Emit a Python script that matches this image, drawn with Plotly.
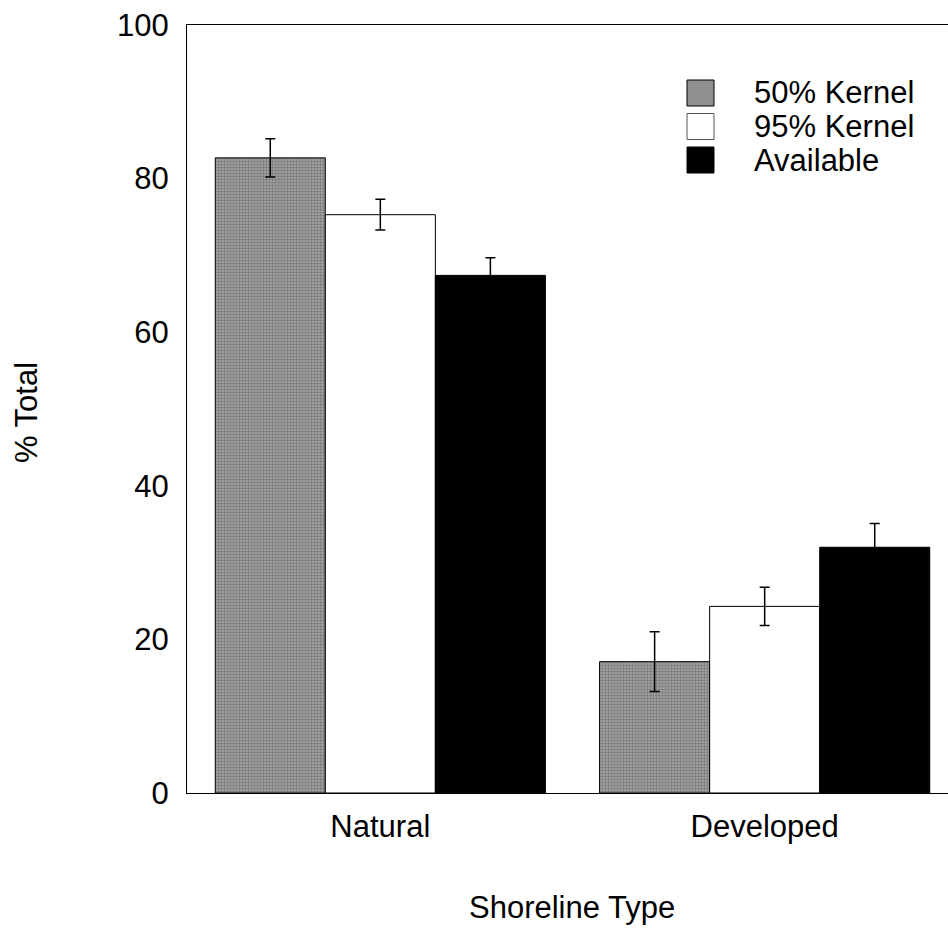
import plotly.graph_objects as go

categories = ["Natural", "Developed"]
series_names = ["50% Kernel", "95% Kernel", "Available"]
kernel50 = [82.7, 17.1]
kernel50_err = [2.5, 3.9]
kernel95 = [75.3, 24.3]
kernel95_err = [2.0, 2.5]
available = [67.4, 32.0]
available_err = [2.3, 3.1]
y_ticks = [0, 20, 40, 60, 80, 100]

values = [kernel50, kernel95, available]
errors = [kernel50_err, kernel95_err, available_err]
fills = [
    dict(color="#8c8c8c", pattern=dict(shape=".", fgcolor="#4a4a4a", bgcolor="#a8a8a8", size=3, solidity=0.5)),
    dict(color="white"),
    dict(color="black"),
]

FONT = "Liberation Sans, Arial, sans-serif"
FS = 31
xpos = list(range(len(categories)))

fig = go.Figure()
for name, v, e, f in zip(series_names, values, errors, fills):
    marker = dict(f)
    marker["line"] = dict(color="black", width=1)
    fig.add_trace(go.Bar(
        x=xpos, y=v, name=name, marker=marker,
        error_y=dict(type="data", array=e, visible=True, color="black", thickness=1.5, width=5),
        showlegend=False,
    ))

fig.update_layout(
    width=948, height=933,
    margin=dict(l=187, r=0, t=25, b=140),
    paper_bgcolor="white", plot_bgcolor="white",
    barmode="group", bargap=0.141, bargroupgap=0,
    font=dict(family=FONT, size=FS, color="black"),
    xaxis=dict(
        range=[-0.503, 1.477], tickvals=xpos, ticktext=categories,
        showline=True, linecolor="black", linewidth=1, mirror=True,
        ticks="outside", ticklen=6, tickcolor="rgba(0,0,0,0)",
        showgrid=False, zeroline=False,
    ),
    yaxis=dict(
        range=[0, 100], tickvals=y_ticks,
        showline=True, linecolor="black", linewidth=1,
        ticks="outside", ticklen=11, tickcolor="rgba(0,0,0,0)",
        showgrid=False, zeroline=False,
    ),
)

# axis titles
fig.add_annotation(text="% Total", xref="paper", yref="paper", x=-0.2116, y=0.496,
                   textangle=-90, showarrow=False, font=dict(size=FS), xanchor="center", yanchor="middle")
fig.add_annotation(text="Shoreline Type", xref="paper", yref="paper", x=0.506, y=-0.1497,
                   showarrow=False, font=dict(size=FS), xanchor="center", yanchor="middle")

# legend drawn manually
legend_fills = ["#8f8f8f", "white", "black"]
for i, (name, col) in enumerate(zip(series_names, legend_fills)):
    yc = 93 + i * 33.5
    y0 = 1 - (yc - 13 - 25) / 768
    y1 = 1 - (yc + 13 - 25) / 768
    x0 = (687 - 187) / 761
    x1 = (714 - 187) / 761
    fig.add_shape(type="rect", xref="paper", yref="paper", x0=x0, x1=x1, y0=y1, y1=y0,
                  fillcolor=col, line=dict(color="black" if i != 1 else "#555", width=1))
    fig.add_annotation(text=name, xref="paper", yref="paper", x=(752 - 187) / 761,
                       y=1 - (yc - 25) / 768, showarrow=False, xanchor="left", yanchor="middle",
                       font=dict(size=FS))

fig.write_html("out.html")
